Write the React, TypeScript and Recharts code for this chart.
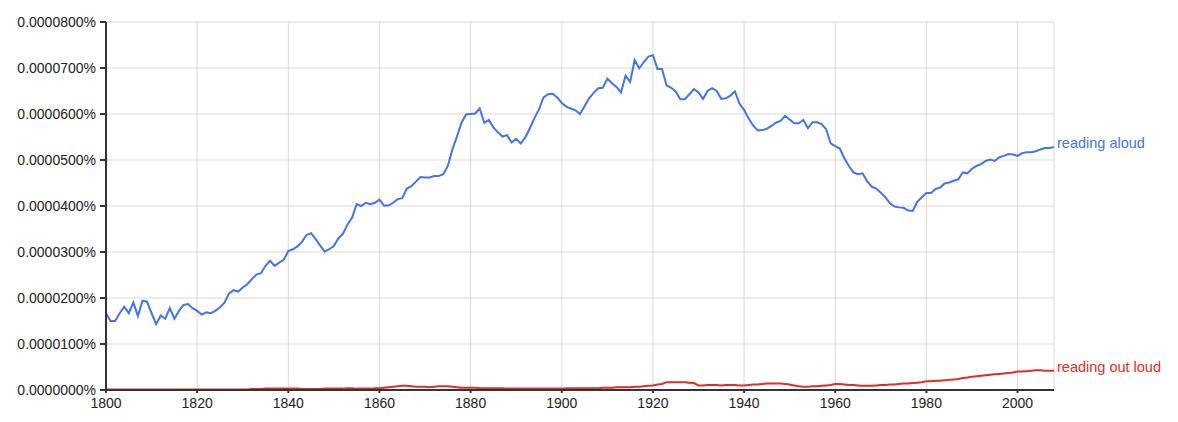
import { CartesianGrid, Line, LineChart, XAxis, YAxis } from "recharts";

// values are in units of 0.0000001% (so 800 -> 0.0000800%)
const startYear = 1800;

const readingAloud: number[] = [
    167, 150, 150, 167, 181, 167, 190, 161, 194, 192,
    167, 143, 162, 155, 178, 155, 172, 185, 187, 178,
    172, 164, 169, 167, 172, 180, 190, 210, 217, 214,
    223, 230, 241, 251, 254, 270, 281, 270, 277, 283,
    302, 306, 312, 322, 337, 341, 328, 314, 301, 306,
    313, 330, 340, 360, 375, 404, 400, 407, 404, 407,
    414, 401, 401, 407, 415, 417, 438, 443, 453, 463,
    462, 462, 465, 465, 469, 487, 523, 551, 581, 599,
    600, 601, 612, 581, 587, 571, 560, 551, 554, 538,
    546, 536, 549, 569, 591, 610, 636, 643, 644, 636,
    624, 616, 612, 608, 600, 617, 634, 646, 656, 657,
    677, 667, 659, 647, 683, 670, 717, 699, 713, 725,
    728, 698, 698, 662, 657, 649, 632, 632, 643, 654,
    647, 633, 650, 656, 650, 633, 634, 640, 649, 622,
    609, 590, 575, 564, 565, 568, 574, 581, 585, 596,
    588, 580, 580, 587, 569, 582, 582, 578, 567, 536,
    530, 525, 504, 487, 473, 469, 471, 454, 442, 438,
    429, 419, 406, 399, 397, 396, 390, 389, 409, 419,
    428, 428, 437, 440, 449, 451, 455, 458, 473, 471,
    481, 487, 491, 498, 501, 498, 506, 509, 513, 512,
    509, 515, 517, 517, 519, 523, 526, 526, 528,
];

const readingOutLoud: number[] = [
    1, 1, 1, 1, 1, 1, 1, 1, 1, 1,
    1, 1, 1, 1, 1, 1, 1, 1, 1, 1,
    1, 1, 1, 1, 1, 1, 1, 1, 1, 1,
    1, 1, 2, 2, 2, 3, 3, 3, 3, 3,
    3, 3, 3, 2, 2, 2, 2, 2, 3, 3,
    3, 3, 3, 4, 4, 3, 3, 3, 3, 4,
    4, 5, 6, 7, 8, 9, 9, 8, 7, 7,
    7, 6, 7, 8, 8, 8, 7, 6, 5, 5,
    5, 5, 4, 4, 4, 4, 4, 4, 3, 3,
    3, 3, 3, 3, 3, 3, 3, 3, 3, 3,
    3, 4, 4, 4, 4, 4, 4, 4, 4, 5,
    5, 5, 6, 6, 6, 6, 7, 7, 8, 9,
    10, 12, 13, 17, 17, 17, 17, 17, 16, 15,
    10, 10, 11, 11, 11, 10, 11, 11, 11, 10,
    10, 11, 12, 12, 13, 14, 14, 14, 14, 13,
    12, 10, 8, 7, 7, 8, 8, 9, 10, 11,
    13, 13, 12, 11, 11, 10, 9, 9, 9, 10,
    11, 11, 12, 12, 13, 14, 14, 15, 16, 17,
    19, 19, 20, 20, 21, 22, 23, 24, 26, 27,
    29, 30, 31, 32, 33, 34, 35, 36, 37, 38,
    40, 40, 41, 42, 43, 43, 42, 42, 42,
];

const xTicks = [1800, 1820, 1840, 1860, 1880, 1900, 1920, 1940, 1960, 1980, 2000];
const yTicks = [0, 100, 200, 300, 400, 500, 600, 700, 800];

const BLUE = "#4575dd";
const RED = "#d8302a";

const data = readingAloud.map((v, i) => ({
    year: startYear + i,
    aloud: v,
    outLoud: readingOutLoud[i],
}));

const lastIndex = data.length - 1;

function endLabel(text: string, color: string) {
    return (props: any) => {
        if (props.index !== lastIndex) return null;
        return (
            <text x={props.x + 3} y={props.y - 4} dy="0.35em" fill={color} fontSize={14.5}>
                {text}
            </text>
        );
    };
}

export default function App() {
    return (
        <div style={{ position: "absolute", left: 0, top: 0, fontFamily: "'Liberation Sans', Arial, sans-serif" }}>
            <LineChart
                width={1178}
                height={422}
                data={data}
                margin={{ top: 22, right: 124, bottom: 0, left: 0 }}
            >
                <CartesianGrid stroke="#d9d9d9" strokeWidth={1} />
                <XAxis
                    dataKey="year"
                    type="number"
                    domain={[1800, 2008]}
                    ticks={xTicks}
                    interval={0}
                    height={32}
                    stroke="#333"
                    strokeWidth={2}
                    tickSize={3}
                    tickMargin={5}
                    tick={{ fill: "#222", fontSize: 14 }}
                />
                <YAxis
                    type="number"
                    domain={[0, 800]}
                    ticks={yTicks}
                    interval={0}
                    width={106}
                    stroke="#333"
                    strokeWidth={2}
                    tickSize={6}
                    tickMargin={4}
                    tick={{ fill: "#222", fontSize: 14 }}
                    tickFormatter={(v: number) => (v / 1e7).toFixed(7) + "%"}
                />
                <Line
                    type="linear"
                    dataKey="outLoud"
                    stroke={RED}
                    strokeWidth={2}
                    dot={false}
                    isAnimationActive={false}
                    label={endLabel("reading out loud", RED)}
                />
                <Line
                    type="linear"
                    dataKey="aloud"
                    stroke={BLUE}
                    strokeWidth={2}
                    dot={false}
                    isAnimationActive={false}
                    label={endLabel("reading aloud", BLUE)}
                />
            </LineChart>
        </div>
    );
}
